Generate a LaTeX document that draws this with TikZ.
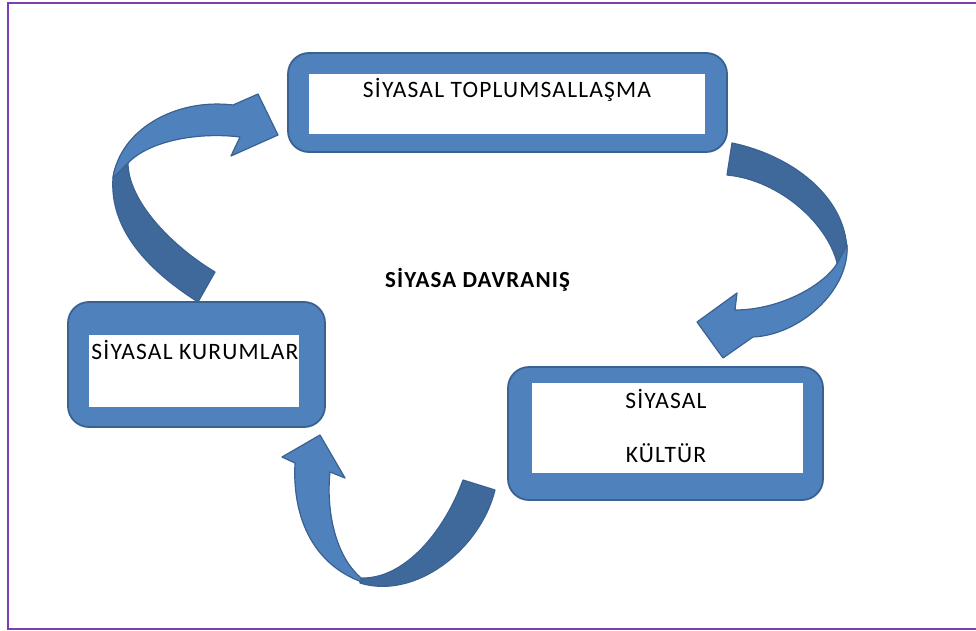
\documentclass[tikz,border=0pt]{standalone}
\usepackage{fontspec}
\setmainfont{Carlito}[LetterSpace=5]
\definecolor{boxblue}{HTML}{4F81BD}
\definecolor{edgeblue}{HTML}{3A6291}
\definecolor{darkblue}{HTML}{40699B}
\definecolor{framepurple}{HTML}{7A3FB3}
\tikzset{
  bluebox/.style={draw=edgeblue, line width=1.8pt, fill=boxblue, rounded corners=21pt, inner sep=0pt},
  whitebox/.style={fill=white, draw=none, inner sep=0pt},
  lbl/.style={inner sep=0pt, anchor=base, font=\fontsize{23.5}{28}\selectfont},
  arrowlight/.style={fill=boxblue, draw=edgeblue, line width=1.2pt, line join=round},
  arrowdark/.style={fill=darkblue, draw=edgeblue, line width=1.2pt, line join=round},
}
\begin{document}
\begin{tikzpicture}[x=1pt,y=-1pt]
\useasboundingbox (0,0) rectangle (976,631);
\fill[white] (0,0) rectangle (976,631);
% frame
\draw[framepurple, line width=2pt] (976,3.5) -- (7.5,3.5) -- (7.5,629) -- (976,629);

% boxes
\node[bluebox, minimum width=439pt, minimum height=99pt] (topbox) at (507.5,102.5) {};
\node[whitebox, minimum width=396pt, minimum height=60pt] (topin) at (507,104) {};
\node[lbl] (toptxt) at (507,97.5) {SİYASAL TOPLUMSALLAŞMA};

\node[bluebox, minimum width=257pt, minimum height=125pt] (leftbox) at (196.5,364.5) {};
\node[whitebox, minimum width=210pt, minimum height=72pt] (leftin) at (194,371) {};
\node[lbl] (lefttxt) at (195,359) {SİYASAL KURUMLAR};

\node[bluebox, minimum width=315pt, minimum height=133pt] (rightbox) at (665.5,433.5) {};
\node[whitebox, minimum width=271pt, minimum height=90pt] (rightin) at (667.5,428) {};
\node[lbl] (righttxtA) at (666,408) {SİYASAL};
\node[lbl] (righttxtB) at (666,462) {KÜLTÜR};

\node[lbl, font=\fontsize{23}{28}\selectfont\bfseries] (center) at (477.5,287) {SİYASA DAVRANIŞ};

% arrow A: left box -> top box
\draw[arrowdark] (128,163) .. controls (128,200) and (170,245) .. (215,272)
  -- (198,302) .. controls (135,262) and (110,220) .. (113,178)
  .. controls (114,165) and (122,155) .. (132,150) -- cycle;
\draw[arrowlight] (113,178) .. controls (120,130) and (175,98) .. (233,105)
  -- (258,94) -- (278,135) -- (231,156) -- (240,137)
  .. controls (200,132) and (150,140) .. (128,163) -- cycle;

% arrow B: top box -> right box
\draw[arrowdark] (732,143) .. controls (790,155) and (845,195) .. (847,250)
  -- (838,267) .. controls (830,225) and (780,180) .. (727,175) -- cycle;
\draw[arrowlight] (847,245) .. controls (850,290) and (800,335) .. (753,337)
  -- (723,358) -- (697,322) -- (737,293) -- (735,310)
  .. controls (780,310) and (825,285) .. (838,262) -- cycle;

% arrow C: right box -> left box
\draw[arrowdark] (463,480) -- (495,490) .. controls (480,550) and (415,600) .. (360,583)
  -- (360,578) .. controls (405,580) and (445,530) .. (463,480) -- cycle;
\draw[arrowlight] (362,582) .. controls (315,565) and (292,520) .. (295,463)
  -- (282,457) -- (320,435) -- (345,478) -- (330,472)
  .. controls (326,510) and (335,555) .. (360,577) -- cycle;
\end{tikzpicture}
\end{document}
